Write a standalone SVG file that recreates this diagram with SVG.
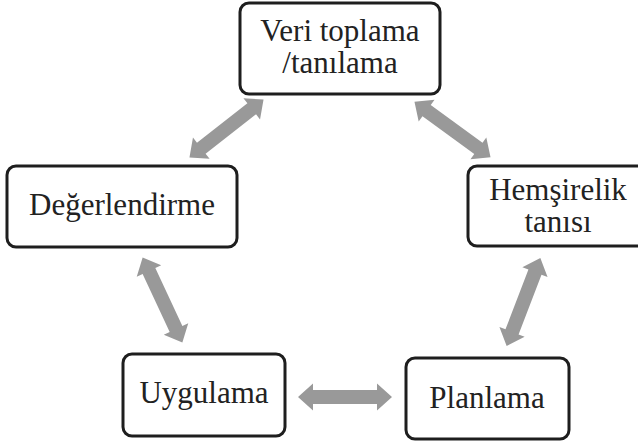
<svg xmlns="http://www.w3.org/2000/svg" xmlns:xlink="http://www.w3.org/1999/xlink" width="638" height="445" viewBox="0 0 638 445">
  <style>
    .box { fill: #ffffff; stroke: #1e1e1e; stroke-width: 3; }
    .lbl { font-family: "Liberation Serif", "Times New Roman", serif; font-size: 31px; fill: #222222; text-anchor: middle; }
    .arr { fill: #999999; }
  </style>
  <defs>
    <path id="dblarrow" d="M -47 0 L -32 -13.5 L -32 -7 L 32 -7 L 32 -13.5 L 47 0 L 32 13.5 L 32 7 L -32 7 L -32 13.5 Z"/>
  </defs>
  <rect width="638" height="445" fill="#ffffff"/>
  <g id="connectors" class="arr">
    <use xlink:href="#dblarrow" transform="translate(226.5,128.5) rotate(-38)"/>
    <use xlink:href="#dblarrow" transform="translate(452.5,129.5) rotate(36)"/>
    <use xlink:href="#dblarrow" transform="translate(162.5,300) rotate(65)"/>
    <use xlink:href="#dblarrow" transform="translate(523.5,302) rotate(111)"/>
    <use xlink:href="#dblarrow" transform="translate(345,397)"/>
  </g>
  <g id="node-veri">
    <rect class="box" x="240" y="3" width="200" height="91" rx="9"/>
    <text class="lbl" x="340" y="41">Veri toplama</text>
    <text class="lbl" x="340" y="73">/tanılama</text>
  </g>
  <g id="node-hemsirelik">
    <rect class="box" x="468" y="166" width="178" height="80" rx="9"/>
    <text class="lbl" x="558" y="200">Hemşirelik</text>
    <text class="lbl" x="558" y="232">tanısı</text>
  </g>
  <g id="node-degerlendirme">
    <rect class="box" x="7" y="166" width="230" height="81" rx="9"/>
    <text class="lbl" x="122" y="215">Değerlendirme</text>
  </g>
  <g id="node-uygulama">
    <rect class="box" x="123" y="354" width="162" height="82" rx="9"/>
    <text class="lbl" x="204" y="403">Uygulama</text>
  </g>
  <g id="node-planlama">
    <rect class="box" x="406" y="358" width="163" height="81" rx="9"/>
    <text class="lbl" x="487" y="408">Planlama</text>
  </g>
</svg>
